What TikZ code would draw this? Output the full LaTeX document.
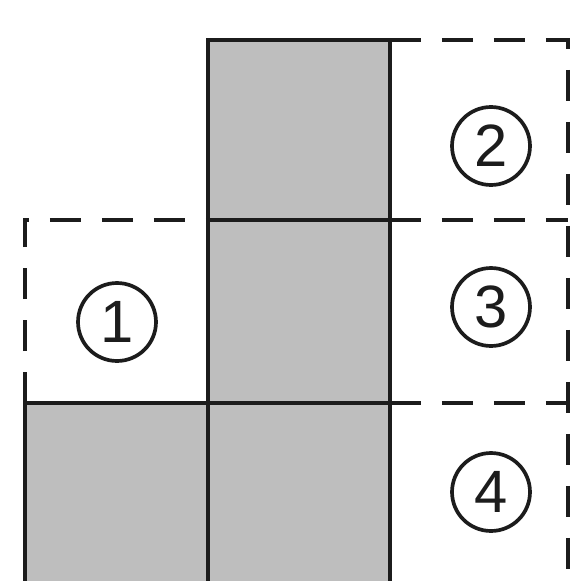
\documentclass[tikz,border=0pt]{standalone}
\usepackage{fontspec}
\setsansfont{Liberation Sans}
\usetikzlibrary{positioning}
\definecolor{cellgrey}{RGB}{190,190,190}
\definecolor{inkline}{RGB}{28,28,28}
\tikzset{
  cellline/.style={line width=2.8pt,draw=inkline},
  dashline/.style={cellline,dash pattern=on 0.62cm off 0.42cm},
  shadecell/.style={fill=cellgrey},
  numcirc/.style={circle,draw=inkline,line width=2.1pt,minimum size=1.56cm,inner sep=0pt,
    text=inkline,font=\sffamily\fontsize{34}{34}\selectfont}
}
\begin{document}
\begin{tikzpicture}[x=.02cm,y=-.02cm]
        \clip (0,0) rectangle (574,581);
        \fill[white] (0,0) rectangle (574,581);
        % grey squares
        \fill[shadecell] (208,40) rectangle (390,590);
        \fill[shadecell] (25,403) rectangle (208,590);
        % solid edges
        \draw[cellline] (208,585) -- (208,40) -- (390,40) -- (390,585);
        \draw[cellline] (25,585) -- (25,403) -- (390,403);
        \draw[cellline] (208,220) -- (390,220);
        \draw[cellline] (25,583) -- (390,583);
        % dashed squares
        \draw[dashline] (25,403) -- (25,220) -- (208,220);
        \draw[dashline] (390,40) -- (568,40) -- (568,585);
        \draw[dashline] (390,220) -- (568,220);
        \draw[dashline] (390,403) -- (568,403);
        \draw[dashline] (390,583) -- (568,583);
        % numbers
        \node[numcirc] (one) at (117,322) {1};
        \node[numcirc] (two) at (491,146) {2};
        \node[numcirc] (three) at (491,307) {3};
        \node[numcirc] (four) at (491,492) {4};
      \end{tikzpicture}
\end{document}
